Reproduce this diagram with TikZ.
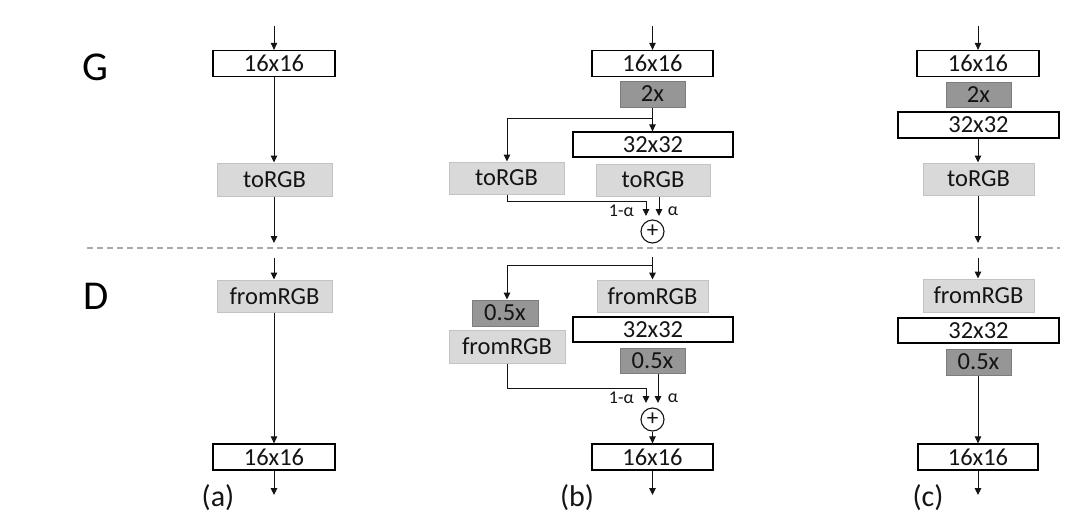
\documentclass[tikz,border=0pt]{standalone}
\usepackage{fontspec}
\setmainfont{Carlito}
\usetikzlibrary{arrows.meta}
\definecolor{lfill}{RGB}{217,217,217}
\definecolor{ldraw}{RGB}{195,195,195}
\definecolor{dfill}{RGB}{150,150,150}
\definecolor{ddraw}{RGB}{125,125,125}
\definecolor{dashc}{RGB}{170,170,170}
\definecolor{txt}{RGB}{20,20,20}
\tikzset{
  base/.style={rectangle, inner sep=0pt, text=txt, font=\fontsize{24.5}{27}\selectfont},
  wbox/.style={base, draw=black, line width=1.3pt, fill=white},
  lbox/.style={base, draw=ldraw, line width=1pt, fill=lfill},
  dbox/.style={base, draw=ddraw, line width=1pt, fill=dfill},
  arr/.style={-{Triangle[length=7pt,width=6.5pt]}, line width=1pt, draw=txt},
  ring/.style={circle, draw=txt, line width=1.1pt, minimum size=23pt, inner sep=0pt},
  plussign/.style={inner sep=0pt, text=txt, font=\fontsize{23}{23}\selectfont},
  wlab/.style={inner sep=0pt, text=txt, font=\fontsize{18}{20}\selectfont},
  biglab/.style={inner sep=0pt, text=black, font=\fontsize{41}{44}\selectfont},
  sublab/.style={inner sep=0pt, text=txt, font=\fontsize{30}{33}\selectfont}
}
\begin{document}
\begin{tikzpicture}[x=1pt,y=-1pt]
\useasboundingbox (0,0) rectangle (1080,520);
\fill[white] (0,0) rectangle (1080,520);

% labels
\node[biglab] (G) at (95.5,67) {G};
\node[biglab] (D) at (96,296) {D};
\node[sublab] (la) at (218,498) {(a)};
\node[sublab] (lb) at (577,498) {(b)};
\node[sublab] (lc) at (928,498) {(c)};

% dashed separator
\coordinate (dl) at (87,248);
\coordinate (dr) at (1060,248);
\draw[dashc, line width=1.4pt, dash pattern=on 6pt off 4pt] (dl) -- (dr);

% ===== column (a) =====
\coordinate (aG0) at (274,26);
\node[wbox, minimum width=122pt, minimum height=26pt] (aG1) at (274,63.5) {16x16};
\node[lbox, minimum width=115pt, minimum height=33pt] (aG2) at (274.5,179.5) {toRGB};
\coordinate (aG3) at (274,243);
\draw[arr] (aG0) -- (aG1.north);
\draw[arr] (aG1.south) -- (aG1.south |- aG2.north);
\draw[arr] (aG2.south -| aG3) -- (aG3);

\coordinate (aD0) at (274,258);
\node[lbox, minimum width=115pt, minimum height=32pt] (aD1) at (274.5,296) {fromRGB};
\node[wbox, minimum width=122pt, minimum height=26pt] (aD2) at (274,457) {16x16};
\coordinate (aD3) at (274,495);
\draw[arr] (aD0) -- (aD0 |- aD1.north);
\draw[arr] (aD1.south -| aD0) -- (aD2.north);
\draw[arr] (aD2.south) -- (aD3);

% ===== column (b) =====
\coordinate (bG0) at (652.5,26);
\node[wbox, minimum width=121pt, minimum height=26pt] (bG1) at (652.5,63.5) {16x16};
\node[dbox, minimum width=65pt, minimum height=26pt] (bG2) at (652.5,94) {2x};
\node[wbox, minimum width=160pt, minimum height=25pt] (bG3) at (653,144.5) {32x32};
\node[lbox, minimum width=115pt, minimum height=32pt] (bGL) at (506.5,178) {toRGB};
\node[lbox, minimum width=114pt, minimum height=32pt] (bGR) at (653,180) {toRGB};
\coordinate (bGbr) at (652.5,118);
\coordinate (bGbl) at (507,118);
\coordinate (bGj) at (507,201);
\coordinate (bGpl) at (646,216);
\coordinate (bGpr) at (659,216);
\node[ring] (bGplus) at (652.5,231.5) {};
\node[plussign] (bGps) at (bGplus.center) {+};
\node[wlab, anchor=east] (bGa1) at (634,211) {1-α};
\node[wlab] (bGa2) at (673,211) {α};
\draw[arr] (bG0) -- (bG1.north);
\draw[arr] (bG2.south) -- (bG2.south |- bG3.north);
\draw[arr] (bGbr) -- (bGbl) -- (bGbl |- bGL.north);
\draw[arr] (bGL.south -| bGj) -- (bGj) -| (bGpl);
\draw[arr] (bGR.south -| bGpr) -- (bGpr);

\coordinate (bD0) at (652.5,257);
\coordinate (bDbr) at (652.5,265);
\coordinate (bDbl) at (507,265);
\node[lbox, minimum width=111pt, minimum height=32pt] (bDR1) at (652.5,296) {fromRGB};
\node[wbox, minimum width=160pt, minimum height=25pt] (bDR2) at (653,329.5) {32x32};
\node[dbox, minimum width=65pt, minimum height=25pt] (bDR3) at (652.5,360.5) {0.5x};
\node[dbox, minimum width=66pt, minimum height=26pt] (bDL1) at (505,313) {0.5x};
\node[lbox, minimum width=116pt, minimum height=33pt] (bDL2) at (507,346.5) {fromRGB};
\coordinate (bDj) at (507,388);
\coordinate (bDpl) at (646,403);
\coordinate (bDpr) at (658,403);
\node[ring] (bDplus) at (652.5,419.5) {};
\node[plussign] (bDps) at (bDplus.center) {+};
\node[wlab, anchor=east] (bDa1) at (634,398) {1-α};
\node[wlab] (bDa2) at (673,398) {α};
\node[wbox, minimum width=121pt, minimum height=26pt] (bD4) at (652.5,457) {16x16};
\coordinate (bD5) at (652.5,495);
\draw[arr] (bD0) -- (bD0 |- bDR1.north);
\draw[arr] (bDbr) -- (bDbl) -- (bDbl |- bDL1.north);
\draw[arr] (bDL2.south -| bDj) -- (bDj) -| (bDpl);
\draw[arr] (bDR3.south -| bDpr) -- (bDpr);
\draw[arr] (bDplus.south) -- (bD4.north);
\draw[arr] (bD4.south) -- (bD5);

% ===== column (c) =====
\coordinate (cG0) at (978,26);
\node[wbox, minimum width=122pt, minimum height=26pt] (cG1) at (978,63.5) {16x16};
\node[dbox, minimum width=65pt, minimum height=25pt] (cG2) at (978.5,94.5) {2x};
\node[wbox, minimum width=161pt, minimum height=26pt] (cG3) at (978.5,125) {32x32};
\node[lbox, minimum width=111pt, minimum height=32pt] (cG4) at (978.5,179) {toRGB};
\coordinate (cG5) at (978,243);
\draw[arr] (cG0) -- (cG1.north);
\draw[arr] (cG3.south -| cG0) -- (cG0 |- cG4.north);
\draw[arr] (cG4.south -| cG5) -- (cG5);

\coordinate (cD0) at (978,258);
\node[lbox, minimum width=111pt, minimum height=33pt] (cD1) at (978.5,295.5) {fromRGB};
\node[wbox, minimum width=161pt, minimum height=25pt] (cD2) at (978.5,330.5) {32x32};
\node[dbox, minimum width=65pt, minimum height=26pt] (cD3) at (978.5,362) {0.5x};
\node[wbox, minimum width=120pt, minimum height=26pt] (cD4) at (978,457) {16x16};
\coordinate (cD5) at (978,495);
\draw[arr] (cD0) -- (cD0 |- cD1.north);
\draw[arr] (cD3.south -| cD0) -- (cD4.north);
\draw[arr] (cD4.south) -- (cD5);
\end{tikzpicture}
\end{document}
